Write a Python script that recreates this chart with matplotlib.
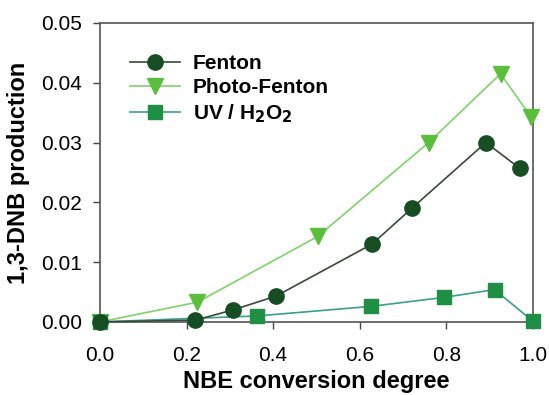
import matplotlib
matplotlib.use("Agg")
import matplotlib.pyplot as plt

fenton_x = [0.0, 0.22, 0.307, 0.406, 0.628, 0.72, 0.891, 0.969]
fenton_y = [0.0, 0.0003, 0.0020, 0.0043, 0.0130, 0.0190, 0.0300, 0.0257]
photo_x = [0.0, 0.225, 0.503, 0.759, 0.925, 0.996]
photo_y = [0.0, 0.0033, 0.0143, 0.0300, 0.0415, 0.0342]
uv_x = [0.0, 0.363, 0.626, 0.794, 0.911, 1.0]
uv_y = [0.0, 0.0010, 0.0026, 0.0041, 0.0054, 0.0001]

xticks = [0.0, 0.2, 0.4, 0.6, 0.8, 1.0]
yticks = [0.00, 0.01, 0.02, 0.03, 0.04, 0.05]

plt.rcParams['font.family'] = ['Liberation Sans', 'DejaVu Sans']

fig = plt.figure(figsize=(5.49, 3.95), dpi=100)
ax = fig.add_axes([0.182, 0.185, 0.789, 0.757])

ax.plot(photo_x, photo_y, color='#7fd36a', lw=1.2, marker='v', ms=11,
        mfc='#5cbf3c', mec='#5cbf3c', label='Photo-Fenton', zorder=3)
ax.plot(uv_x, uv_y, color='#3aa08a', lw=1.2, marker='s', ms=10,
        mfc='#1e8f45', mec='#1e8f45', label='UV / H$_\\mathbf{2}$O$_\\mathbf{2}$', zorder=3)
ax.plot(fenton_x, fenton_y, color='#3a4a3a', lw=1.2, marker='o', ms=11,
        mfc='#174d22', mec='#174d22', label='Fenton', zorder=4)

ax.set_xlim(0, 1.0)
ax.set_ylim(0, 0.05)
ax.set_xticks(xticks)
ax.set_xticklabels([f"{v:.1f}" for v in xticks])
ax.set_yticks(yticks)
ax.set_yticklabels([f"{v:.2f}" for v in yticks])
ax.tick_params(direction='out', length=5, width=1, color='#444444', labelsize=15)
ax.tick_params(axis='x', pad=12)
ax.tick_params(axis='y', pad=8)
for s in ax.spines.values():
    s.set_color('#555555')
    s.set_linewidth(1.2)

ax.set_xlabel('NBE conversion degree', fontsize=17, fontweight='bold', labelpad=4)
ax.set_ylabel('1,3-DNB production', fontsize=17, fontweight='bold', labelpad=8)

handles, labels = ax.get_legend_handles_labels()
order = [2, 0, 1]
leg = ax.legend([handles[i] for i in order], [labels[i] for i in order],
                loc='upper left', bbox_to_anchor=(0.051, 0.923), frameon=False,
                prop={'size': 15, 'weight': 'bold'}, handlelength=2.4,
                labelspacing=0.25, handletextpad=0.6, borderaxespad=0)

for l in ax.lines:
    l.set_clip_on(False)

fig.savefig('out.png', dpi=100)
